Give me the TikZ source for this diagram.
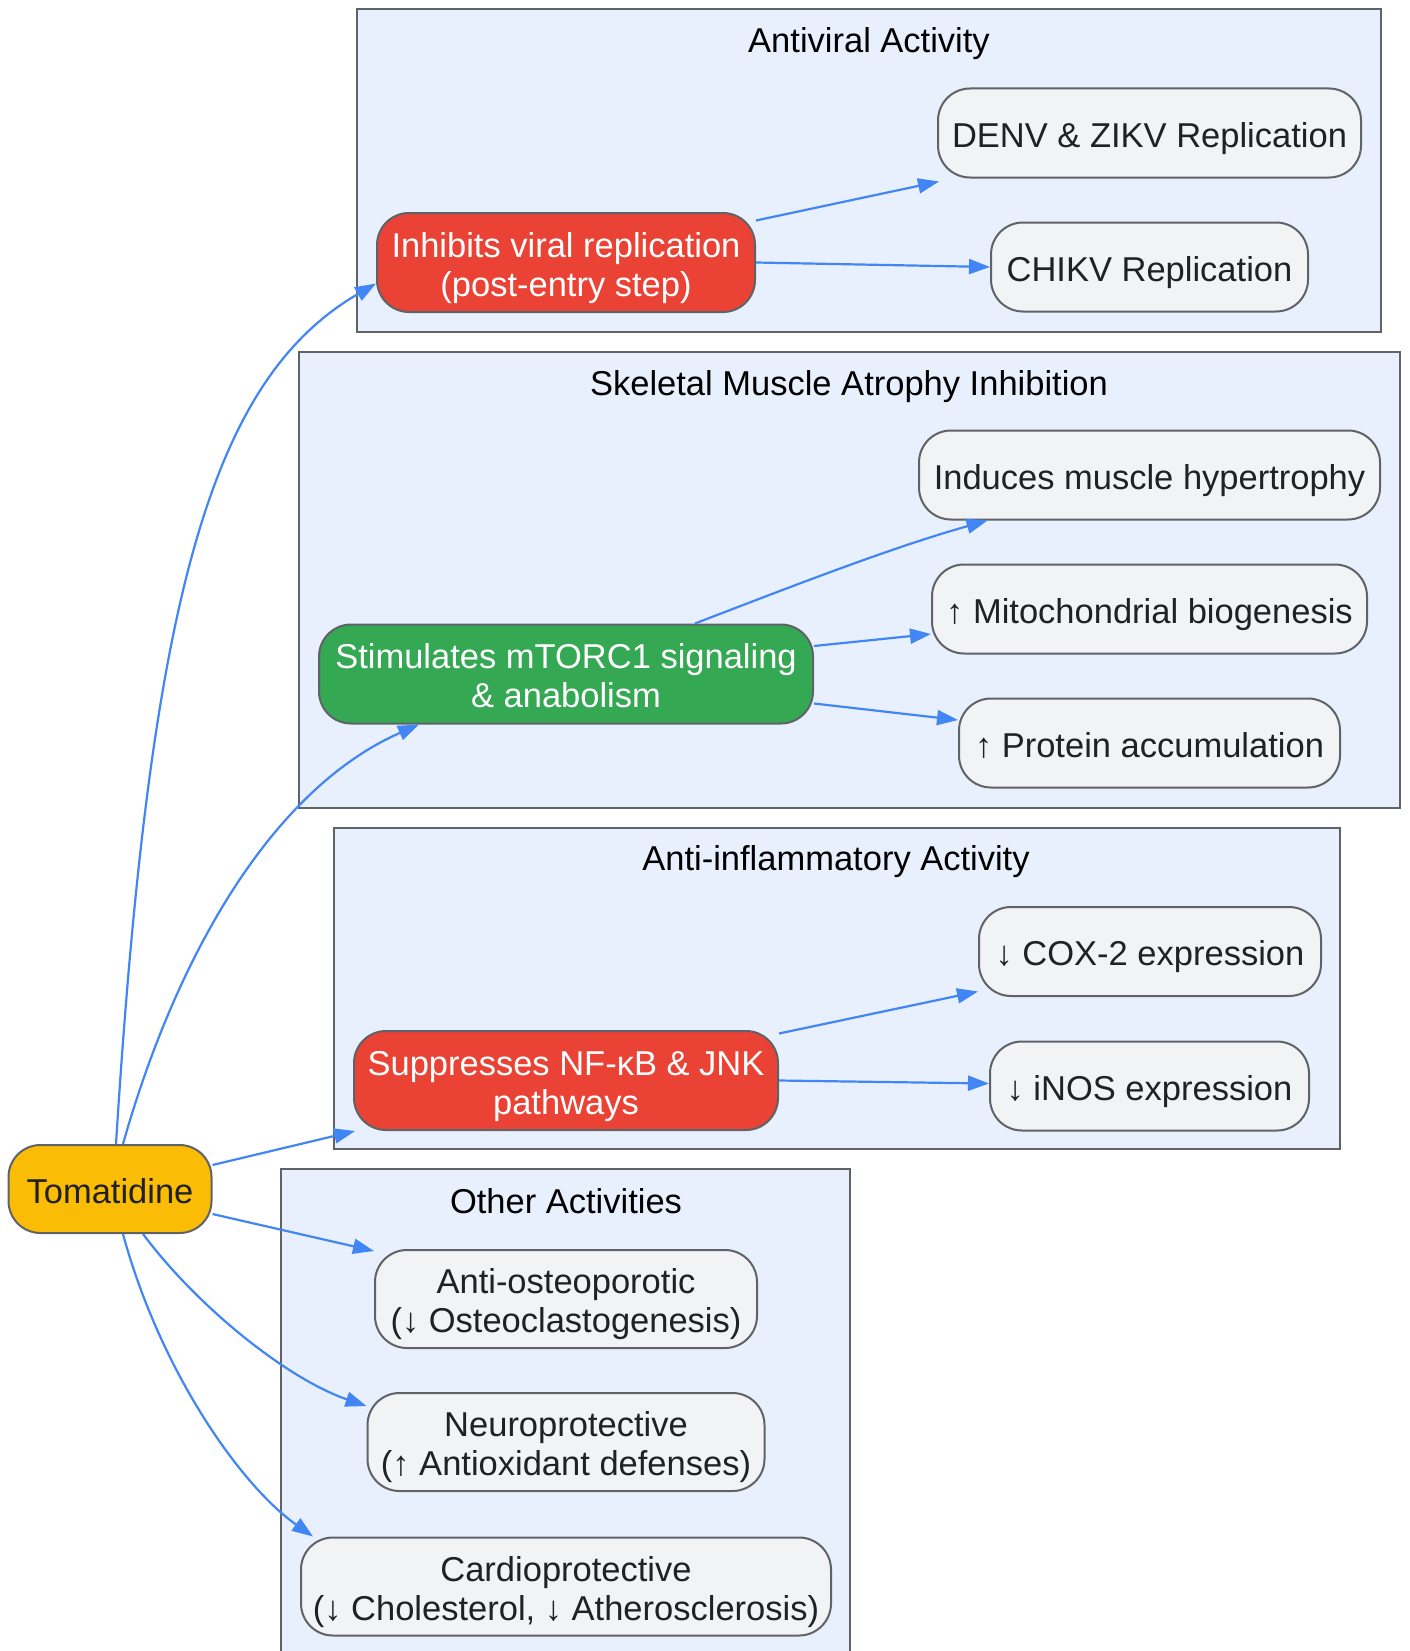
\documentclass[tikz,border=0pt]{standalone}
\usepackage{fontspec}
\setmainfont{Liberation Sans}
\usetikzlibrary{arrows.meta}
\definecolor{edgeblue}{HTML}{4285F4}
\definecolor{bordergray}{HTML}{5F6368}
\definecolor{clusterfill}{HTML}{E8F0FE}
\definecolor{nodefill}{HTML}{F1F3F4}
\definecolor{nodetext}{HTML}{202124}
\definecolor{gred}{HTML}{EA4335}
\definecolor{ggreen}{HTML}{34A853}
\definecolor{gyellow}{HTML}{FBBC05}
\tikzset{
  basebox/.style={draw=bordergray, line width=2pt, rounded corners=32pt, align=center,
    inner sep=0pt, font=\fontsize{34.5}{39}\selectfont, text height=30pt, text depth=2pt},
  greybox/.style={basebox, fill=nodefill, text=nodetext, minimum height=89pt},
  redbox/.style={basebox, fill=gred, text=white, minimum height=99pt, text height=69pt},
  greenbox/.style={basebox, fill=ggreen, text=white, minimum height=99pt, text height=69pt},
  yellowbox/.style={basebox, fill=gyellow, text=nodetext, minimum height=88pt},
  twoline/.style={minimum height=98pt, text height=69pt},
  cluster/.style={draw=bordergray, line width=2pt, fill=clusterfill},
  ctitle/.style={font=\fontsize{34.5}{39}\selectfont, text=black, inner sep=0pt, anchor=base},
  link/.style={draw=edgeblue, line width=2.2pt, -{Triangle[length=21pt,width=15pt]}}
}
\begin{document}
\begin{tikzpicture}[x=1pt,y=-1pt]
\useasboundingbox (0,0) rectangle (1409,1651);
\fill[white] (0,0) rectangle (1409,1651);

% clusters
\draw[cluster] (357,9.5) rectangle (1381,332);
\draw[cluster] (299,352) rectangle (1400,808);
\draw[cluster] (334,828) rectangle (1340,1149);
\draw[cluster] (281,1169) rectangle (850,1670);

\node[ctitle] (t1) at (869,52.5) {Antiviral Activity};
\node[ctitle] (t2) at (849,395.5) {Skeletal Muscle Atrophy Inhibition};
\node[ctitle] (t3) at (836,870.5) {Anti-inflammatory Activity};
\node[ctitle] (t4) at (566,1213) {Other Activities};

% nodes
\node[yellowbox, minimum width=203pt] (tom) at (110,1189) {Tomatidine};

\node[redbox, minimum width=378pt] (inh) at (566,262.5) {Inhibits viral replication\\(post-entry step)};
\node[greybox, minimum width=423pt] (denv) at (1149.5,133) {DENV \& ZIKV Replication};
\node[greybox, minimum width=317pt] (chik) at (1149.5,267) {CHIKV Replication};

\node[greenbox, minimum width=494pt] (stim) at (566,674) {Stimulates mTORC1 signaling\\\& anabolism};
\node[greybox, minimum width=461pt] (hyp) at (1149.5,475) {Induces muscle hypertrophy};
\node[greybox, minimum width=435pt] (mito) at (1149.5,609) {↑ Mitochondrial biogenesis};
\node[greybox, minimum width=381pt] (prot) at (1149.5,743) {↑ Protein accumulation};

\node[redbox, minimum width=424pt] (supp) at (566,1080.5) {Suppresses NF-κB \& JNK\\pathways};
\node[greybox, minimum width=342pt] (cox) at (1150,951.5) {↓ COX-2 expression};
\node[greybox, minimum width=319pt] (inos) at (1149.5,1086) {↓ iNOS expression};

\node[greybox, twoline, minimum width=382pt] (ost) at (566,1299) {Anti-osteoporotic\\(↓ Osteoclastogenesis)};
\node[greybox, twoline, minimum width=397pt] (neu) at (566,1442) {Neuroprotective\\(↑ Antioxidant defenses)};
\node[greybox, twoline, minimum width=530pt] (car) at (566,1586.5) {Cardioprotective\\(↓ Cholesterol, ↓ Atherosclerosis)};

% edges from Tomatidine
\draw[link] ([xshift=6pt]tom.north) .. controls (150,600) and (210,380) .. ([yshift=-21pt]inh.west);
\draw[link] ([xshift=13pt]tom.north) .. controls (175,960) and (270,790) .. ([xshift=-147pt]stim.south);
\draw[link] ([yshift=24pt]tom.east) -- ([xshift=2pt]supp.south west);
\draw[link] ([yshift=-25pt]tom.east) -- ([yshift=-2pt]ost.north west);
\draw[link] ([xshift=33pt]tom.south) .. controls (200,1310) and (290,1380) .. ([yshift=-14pt]neu.north west);
\draw[link] ([xshift=13pt]tom.south) .. controls (160,1370) and (240,1485) .. ([xshift=13pt]car.north west);

% antiviral
\draw[link] ([yshift=42pt]inh.east) -- ([xshift=2pt,yshift=-3pt]denv.south west);
\draw[link] (inh.east) -- (chik.west);

% muscle
\draw[link] ([xshift=129pt]stim.north) .. controls (790,587) and (890,548) .. ([xshift=-162pt]hyp.south);
\draw[link] ([yshift=28pt]stim.east) -- ([yshift=-25pt]mito.west);
\draw[link] ([yshift=-29.5pt]stim.east) -- ([yshift=23pt]prot.west);

% inflammation
\draw[link] ([yshift=47pt]supp.east) -- ([yshift=-40pt]cox.west);
\draw[link] (supp.east) -- ([yshift=2.5pt]inos.west);
\end{tikzpicture}
\end{document}
